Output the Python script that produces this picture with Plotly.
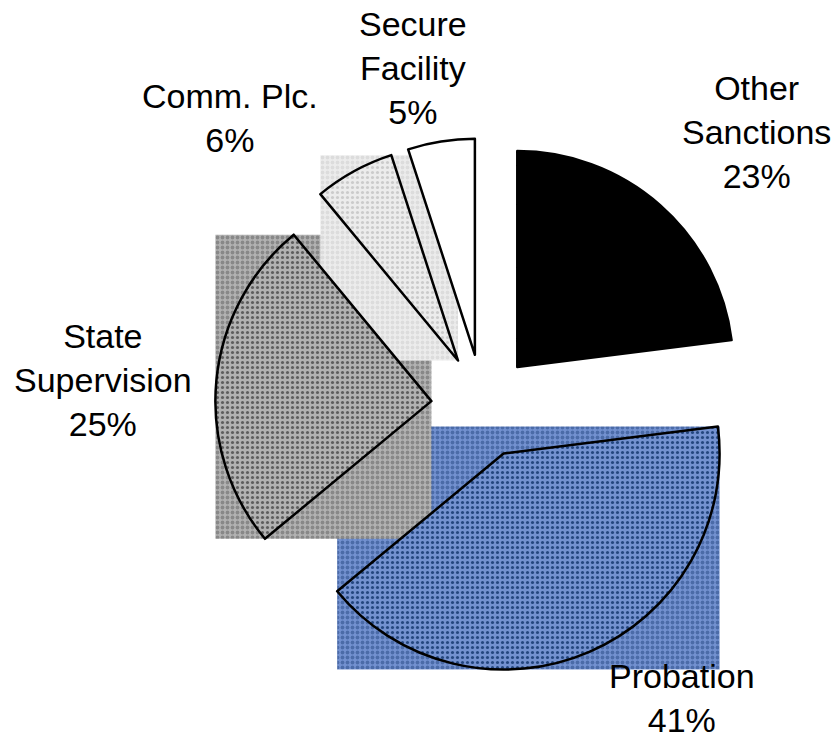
import math
import plotly.graph_objects as go

# ---- data ----
categories = ["Other Sanctions", "Probation", "State Supervision", "Comm. Plc.", "Secure Facility"]
display_labels = ["Other<br>Sanctions", "Probation", "State<br>Supervision", "Comm. Plc.", "Secure<br>Facility"]
shares = [23, 41, 25, 6, 5]

# ---- styles ----
base_colors = ["#000000", "#7391d0", "#b2b2b2", "#ececec", "#ffffff"]
pattern_fg = ["#000000", "#24467f", "#5e5e5e", "#cbcbcb", "#ffffff"]
pattern_shape = ["", ".", ".", ".", ""]
textured = [False, True, True, True, False]
label_pos = [(0.904, 0.822), (0.815, 0.058), (0.123, 0.487), (0.275, 0.841), (0.493, 0.908)]

W, H = 837, 741
CX, CY, R, PULL = 483.0, 406.0, 216.0, 0.24

half = R * (1 + PULL)
dom_x = [(CX - half) / W, (CX + half) / W]
dom_y = [1 - (CY + half) / H, 1 - (CY - half) / H]

fig = go.Figure()

# texture bounding boxes (as rendered by the original chart) computed from slice geometry
total = sum(shares)
cum = 0.0
for i, v in enumerate(shares):
    a0 = 360.0 * cum / total
    a1 = 360.0 * (cum + v) / total
    cum += v
    if not textured[i]:
        continue
    mid = math.radians((a0 + a1) / 2)
    d = PULL * R
    ax, ay = CX + d * math.sin(mid), CY - d * math.cos(mid)
    angs = [a0, a1] + [k * 90 for k in range(0, 5) if a0 < k * 90 < a1]
    xs = [ax] + [ax + R * math.sin(math.radians(a)) for a in angs]
    ys = [ay] + [ay - R * math.cos(math.radians(a)) for a in angs]
    x0, x1, y0, y1 = min(xs), max(xs), min(ys), max(ys)
    fig.add_trace(go.Scatter(
        x=[x0, x1, x1, x0, x0], y=[y0, y0, y1, y1, y0],
        mode="lines", fill="toself", line=dict(width=0),
        fillcolor=base_colors[i],
        fillpattern=dict(shape=pattern_shape[i], fgcolor=pattern_fg[i],
                         bgcolor=base_colors[i], size=5, solidity=0.45),
        hoverinfo="skip", showlegend=False,
    ))

fig.add_trace(go.Pie(
    labels=categories, values=shares, sort=False, direction="clockwise", rotation=0,
    pull=[PULL] * len(shares), textinfo="none", showlegend=False,
    domain=dict(x=dom_x, y=dom_y),
    marker=dict(colors=base_colors, line=dict(color="#000000", width=2.5),
                pattern=dict(shape=pattern_shape, fgcolor=pattern_fg, bgcolor=base_colors,
                             size=5, solidity=0.3)),
))

for lab, v, (px, py) in zip(display_labels, shares, label_pos):
    fig.add_annotation(x=px, y=py, xref="paper", yref="paper", showarrow=False,
                       text=f"{lab}<br>{v}%", xanchor="center", yanchor="middle",
                       font=dict(family="Liberation Sans, Arial, sans-serif", size=34, color="#000000"))

fig.update_xaxes(range=[0, W], visible=False, domain=[0, 1], fixedrange=True)
fig.update_yaxes(range=[H, 0], visible=False, domain=[0, 1], fixedrange=True)
fig.update_layout(width=W, height=H, margin=dict(l=0, r=0, t=0, b=0),
                  paper_bgcolor="#ffffff", plot_bgcolor="#ffffff")

fig.write_html("out.html")
